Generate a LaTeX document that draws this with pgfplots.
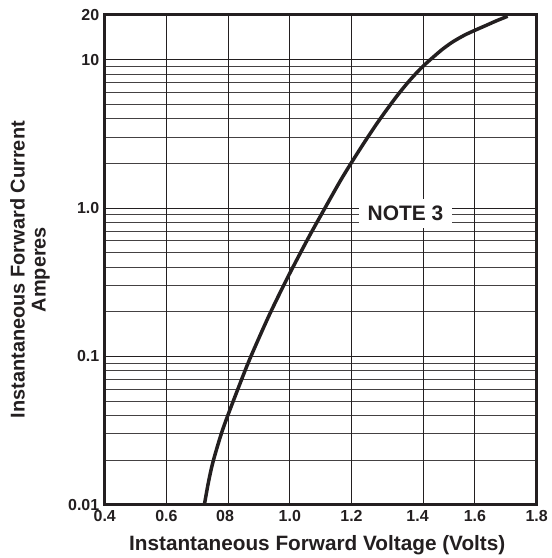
\documentclass[border=0pt]{standalone}
\usepackage{fontspec}
\setmainfont{Liberation Sans}
\usepackage{pgfplots}
\pgfplotsset{compat=1.18}
\definecolor{ink}{RGB}{35,31,32}
\begin{document}
\begin{tikzpicture}
\begin{axis}[
  scale only axis,
  width=433pt, height=491pt,
  xmin=0.4, xmax=1.8,
  ymode=log, ymin=0.01, ymax=20,
  axis line style={ink, line width=3pt},
  major tick length=0pt, minor tick length=0pt,
  xtick={0.4,0.6,0.79,1.0,1.2,1.414,1.6,1.8},
  xticklabels={0.4,0.6,08,1.0,1.2,1.4,1.6,1.8},
  extra x ticks={0.6,0.8,1.0,1.2,1.433,1.6},
  extra x tick labels={},
  extra x tick style={grid=major, major tick length=0pt},
  ytick={0.01,0.1,1,10,20},
  yticklabels={0.01,0.1,1.0,10,20},
  minor ytick={0.02,0.03,0.04,0.05,0.06,0.07,0.08,0.09,0.2,0.3,0.4,0.5,0.6,0.7,0.8,0.9,2,3,4,5,6,7,8,9},
  ymajorgrids=true, yminorgrids=true,
  major grid style={ink, line width=0.9pt},
  minor grid style={ink!85, line width=0.9pt},
  tick label style={font=\fontsize{16}{16}\selectfont\bfseries, text=ink},
  xticklabel style={yshift=-2pt},
  yticklabel style={xshift=-2pt},
  clip mode=individual,
]
\addplot[ink, line width=3.5pt, smooth] coordinates {
(0.723,0.01)
(0.736,0.0141)
(0.750,0.0191)
(0.775,0.0288)
(0.799,0.040)
(0.853,0.0783)
(0.880,0.107)
(0.925,0.174)
(0.956,0.238)
(0.999,0.360)
(1.060,0.628)
(1.104,0.918)
(1.161,1.49)
(1.199,2.01)
(1.247,2.88)
(1.291,3.94)
(1.345,5.61)
(1.388,7.22)
(1.431,8.99)
(1.485,11.3)
(1.510,12.4)
(1.530,13.25)
(1.567,14.65)
(1.604,15.9)
(1.636,17.0)
(1.668,18.2)
(1.706,19.6)
};
\node[fill=white, inner sep=0pt, minimum width=93pt, minimum height=29pt,
      font=\fontsize{21}{21}\selectfont\bfseries, text=ink] at (axis cs:1.375,0.92) {NOTE 3};
\node[anchor=base, font=\fontsize{20.8}{21}\selectfont\bfseries, text=ink]
   at ([yshift=-45.7pt]rel axis cs:0.492,0) {Instantaneous Forward Voltage (Volts)};
\node[rotate=90, align=center, anchor=center, font=\fontsize{20}{21}\selectfont\bfseries, text=ink]
   at ([xshift=-75pt]rel axis cs:0,0.48) {Instantaneous Forward Current\\Amperes};
\end{axis}
\path (current axis.south west) ++(-105pt,-52pt);
\path (current axis.north east) ++(15pt,15pt);
\end{tikzpicture}
\end{document}
